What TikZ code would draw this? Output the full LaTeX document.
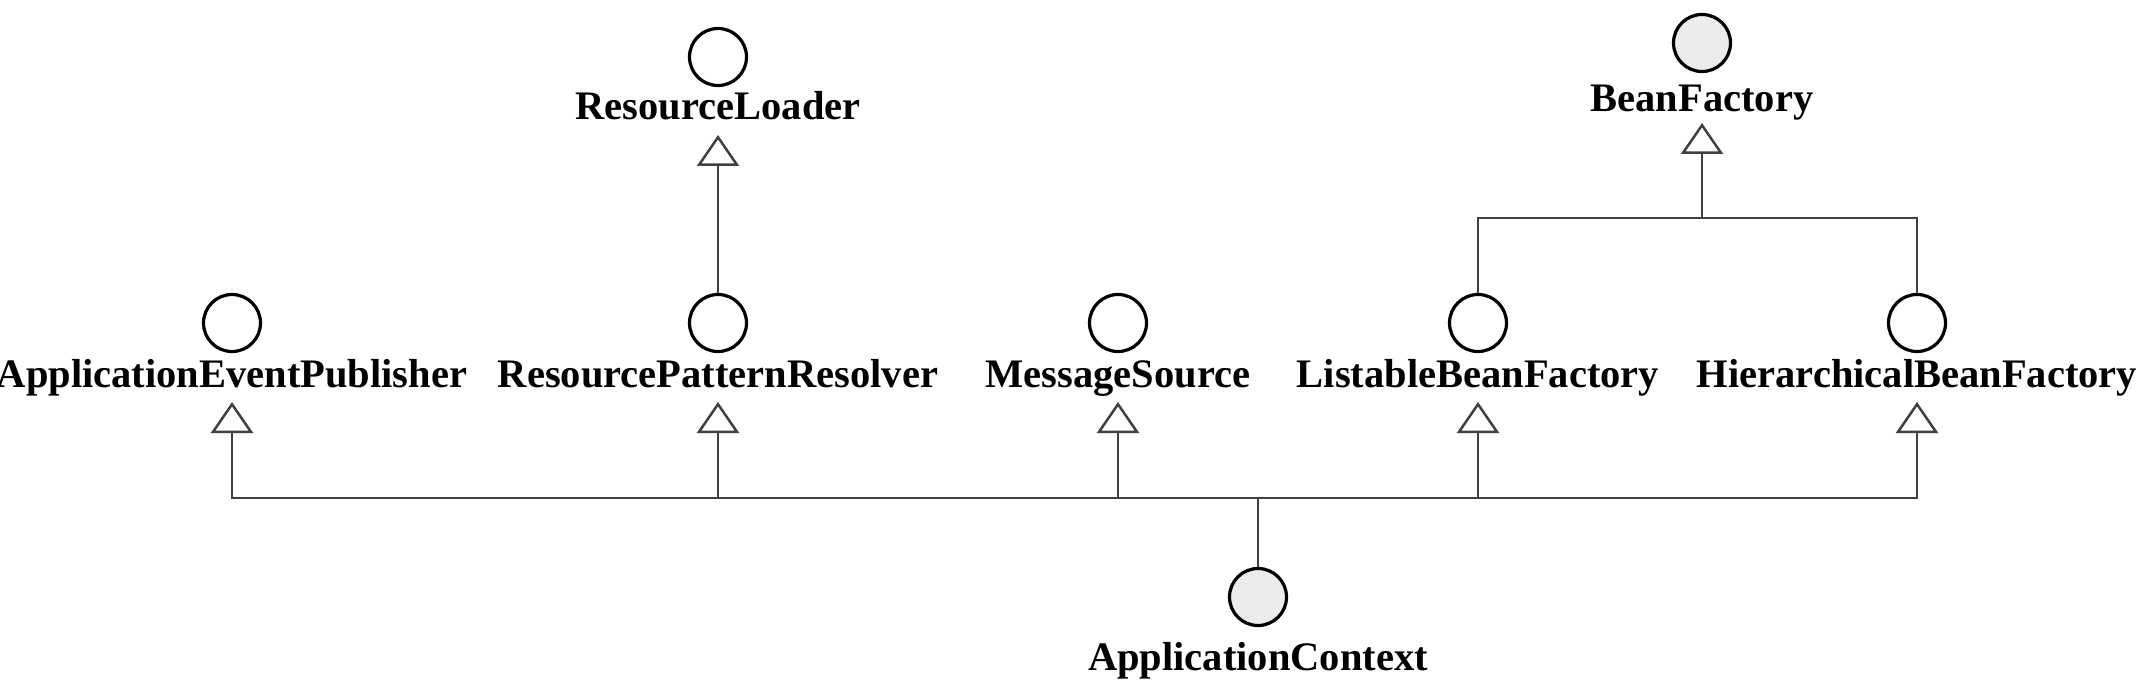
\documentclass[tikz,border=0pt]{standalone}
\usepackage{fontspec}
\setmainfont{Liberation Serif}
\usetikzlibrary{arrows.meta}
\begin{document}
\begin{tikzpicture}[x=1pt,y=-1pt,
  iface/.style={circle,draw=black,line width=3.2pt,minimum size=57pt,inner sep=0pt,fill=white},
  ifacegray/.style={iface,fill=gray!15},
  lbl/.style={anchor=base,inner sep=0pt,font=\fontsize{40.5}{48}\selectfont\bfseries},
  conn/.style={draw=black!75,line width=2.5pt},
  gen/.style={conn,-{Triangle[open,width=42pt,length=31pt,line width=2.5pt]}}
]
\useasboundingbox (0,0) rectangle (2146,684);
% interfaces
\node[iface] (rl) at (718,57) {};
\node[lbl] (rll) at (718,120) {ResourceLoader};
\coordinate (rltip) at (718,135);
\node[ifacegray] (bf) at (1702,43) {};
\node[lbl] (bfl) at (1702,112) {BeanFactory};
\coordinate (bftip) at (1702,123);
\coordinate (bfbus) at (1702,218);

\node[iface] (aep) at (232,323) {};
\node[lbl] (aepl) at (232,387) {ApplicationEventPublisher};
\coordinate (aeptip) at (232,402);
\node[iface] (rpr) at (718,323) {};
\node[lbl] (rprl) at (718,387) {ResourcePatternResolver};
\coordinate (rprtip) at (718,402);
\node[iface] (ms) at (1118,323) {};
\node[lbl] (msl) at (1118,387) {MessageSource};
\coordinate (mstip) at (1118,402);
\node[iface] (lbf) at (1478,323) {};
\node[lbl] (lbfl) at (1478,387) {ListableBeanFactory};
\coordinate (lbftip) at (1478,402);
\node[iface] (hbf) at (1917,323) {};
\node[lbl] (hbfl) at (1917,387) {HierarchicalBeanFactory};
\coordinate (hbftip) at (1917,402);

\node[ifacegray] (ac) at (1258,597) {};
\node[lbl] (acl) at (1258,670) {ApplicationContext};
\coordinate (acbus) at (1258,498);

% connectors
\draw[gen] (rpr.north) -- (rltip);
\draw[conn] (lbf.north) |- (bfbus) -| (hbf.north);
\draw[gen] (bfbus) -- (bftip);
\draw[conn] (ac.north) -- (acbus);
\draw[gen] (acbus) -| (aeptip);
\draw[gen] (acbus) -| (rprtip);
\draw[gen] (acbus) -| (mstip);
\draw[gen] (acbus) -| (lbftip);
\draw[gen] (acbus) -| (hbftip);
\end{tikzpicture}
\end{document}
